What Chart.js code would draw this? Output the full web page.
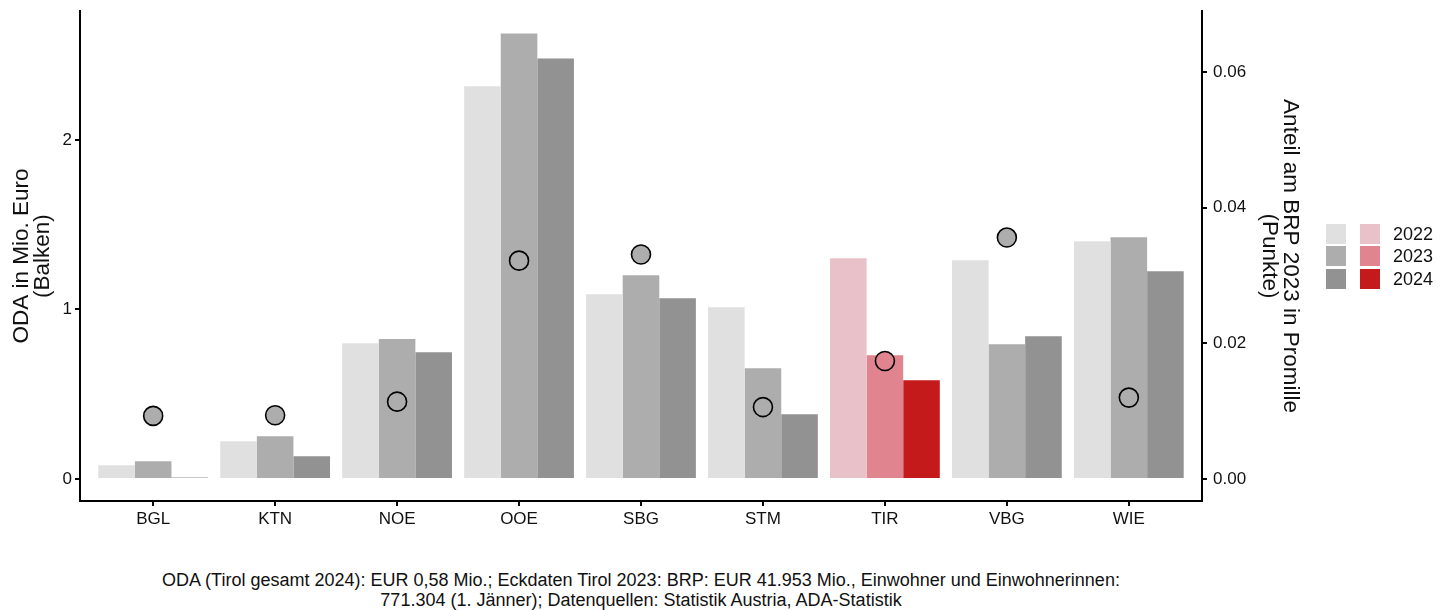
<!DOCTYPE html>
<html><head><meta charset="utf-8">
<script src="https://cdn.jsdelivr.net/npm/chart.js@4/dist/chart.umd.min.js"></script>
<style>
html,body{margin:0;padding:0;background:#fff;}
#wrap{position:relative;width:1446px;height:610px;font-family:"Liberation Sans",Arial,sans-serif;color:#111;overflow:hidden;}
#c{position:absolute;left:0;top:0;}
.sw{position:absolute;width:20px;height:20px;}
.lt{position:absolute;left:1393px;font-size:18px;line-height:22px;height:22px;}
#note{position:absolute;left:80px;width:1122px;top:570px;text-align:center;font-size:18px;line-height:20px;}
</style></head><body>
<div id="wrap">
<canvas id="c" width="1446" height="541"></canvas>
<div id="legend"></div>
<div id="note">ODA (Tirol gesamt 2024): EUR 0,58 Mio.; Eckdaten Tirol 2023: BRP: EUR 41.953 Mio., Einwohner und Einwohnerinnen:<br>771.304 (1. Jänner); Datenquellen: Statistik Austria, ADA-Statistik</div>
</div>
<script>
// ---- data ----
const categories = ['BGL','KTN','NOE','OOE','SBG','STM','TIR','VBG','WIE'];
const years = ['2022','2023','2024'];
const oda2022 = [0.081, 0.223, 0.801, 2.316, 1.090, 1.013, 1.302, 1.290, 1.402];
const oda2023 = [0.105, 0.252, 0.825, 2.628, 1.202, 0.653, 0.730, 0.795, 1.426];
const oda2024 = [0.008, 0.134, 0.748, 2.481, 1.066, 0.382, 0.582, 0.842, 1.225];
const brpShare2023 = [0.0093, 0.0094, 0.0114, 0.0322, 0.0331, 0.0106, 0.0174, 0.0356, 0.0120];
const leftTicks = [0, 1, 2];
const rightTicks = [0, 0.02, 0.04, 0.06];
const highlight = 'TIR';

// ---- styles ----
const greyCols = ['#e0e0e0', '#adadad', '#929292'];
const redCols = ['#e9c1c8', '#e0858f', '#c51a1b'];
const FONT = '"Liberation Sans", Arial, sans-serif';

const colorsFor = (k) => categories.map(c => c === highlight ? redCols[k] : greyCols[k]);
const toXY = (arr) => arr.map((v, i) => ({x: i, y: v}));

const odaSeries = [oda2022, oda2023, oda2024];
const datasets = odaSeries.map((arr, k) => ({
  type: 'bar',
  label: years[k],
  data: toXY(arr),
  backgroundColor: colorsFor(k),
  borderWidth: 0,
  categoryPercentage: 0.9,
  barPercentage: 1.0,
  yAxisID: 'y',
  order: 1
}));
datasets.push({
  type: 'line',
  label: 'BRP',
  data: toXY(brpShare2023),
  showLine: false,
  yAxisID: 'y2',
  pointRadius: 9.5,
  pointHoverRadius: 9.5,
  pointBackgroundColor: colorsFor(1),
  pointBorderColor: '#000',
  pointBorderWidth: 1.6,
  order: 0
});

const tickFont = {family: FONT, size: 17};
const titleFont = {family: FONT, size: 22.5, lineHeight: 0.9};
const noPad = (s) => { s.paddingTop = 0; s.paddingBottom = 0; s.paddingLeft = 0; s.paddingRight = 0; };

new Chart(document.getElementById('c'), {
  type: 'bar',
  data: {datasets},
  options: {
    responsive: false,
    animation: false,
    events: [],
    layout: {padding: {left: 0, right: 146, top: 11, bottom: 0}},
    plugins: {legend: {display: false}, tooltip: {enabled: false}},
    scales: {
      x: {
        type: 'linear',
        min: -0.6, max: 8.6,
        offset: false,
        afterBuildTicks: (s) => { s.ticks = categories.map((c, i) => ({value: i})); },
        afterFit: (s) => { s.height = 40; noPad(s); },
        ticks: {autoSkip: false, maxRotation: 0, padding: 3, color: '#111', font: tickFont,
          callback: (v) => categories[v]},
        grid: {offset: false, drawOnChartArea: false, drawTicks: true, tickLength: 5, color: '#000', lineWidth: 2},
        border: {display: true, color: '#000', width: 2}
      },
      y: {
        type: 'linear', position: 'left',
        min: -0.13, max: 2.76,
        afterBuildTicks: (s) => { s.ticks = leftTicks.map(v => ({value: v})); },
        afterFit: (s) => { s.width = 80; noPad(s); },
        ticks: {padding: 3, color: '#111', font: tickFont, callback: (v) => String(v)},
        grid: {drawOnChartArea: false, drawTicks: true, tickLength: 5, color: '#000', lineWidth: 2},
        border: {display: true, color: '#000', width: 2},
        title: {display: true, text: ['ODA in Mio. Euro', '(Balken)'], font: titleFont, color: '#111', padding: {top: 12, bottom: 0}}
      },
      y2: {
        type: 'linear', position: 'right',
        min: -0.13 / 40, max: 2.76 / 40,
        afterBuildTicks: (s) => { s.ticks = rightTicks.map(v => ({value: v})); },
        afterFit: (s) => { s.width = 98; noPad(s); },
        ticks: {padding: 6, color: '#111', font: tickFont, callback: (v) => Number(v).toFixed(2)},
        grid: {drawOnChartArea: false, drawTicks: true, tickLength: 5, color: '#000', lineWidth: 2},
        border: {display: true, color: '#000', width: 2},
        title: {display: true, text: ['Anteil am BRP 2023 in Promille', '(Punkte)'], font: titleFont, color: '#111', padding: {top: 0, bottom: 0}}
      }
    }
  }
});

// ---- legend (HTML) ----
const leg = document.getElementById('legend');
const rowTops = [224, 246, 269];
years.forEach((y, k) => {
  const g = document.createElement('div'); g.className = 'sw';
  g.style.left = '1326px'; g.style.top = rowTops[k] + 'px'; g.style.background = greyCols[k];
  const r = document.createElement('div'); r.className = 'sw';
  r.style.left = '1360px'; r.style.top = rowTops[k] + 'px'; r.style.background = redCols[k];
  const t = document.createElement('div'); t.className = 'lt';
  t.style.top = (rowTops[k] - 1) + 'px'; t.textContent = y;
  leg.appendChild(g); leg.appendChild(r); leg.appendChild(t);
});
</script>
</body></html>
